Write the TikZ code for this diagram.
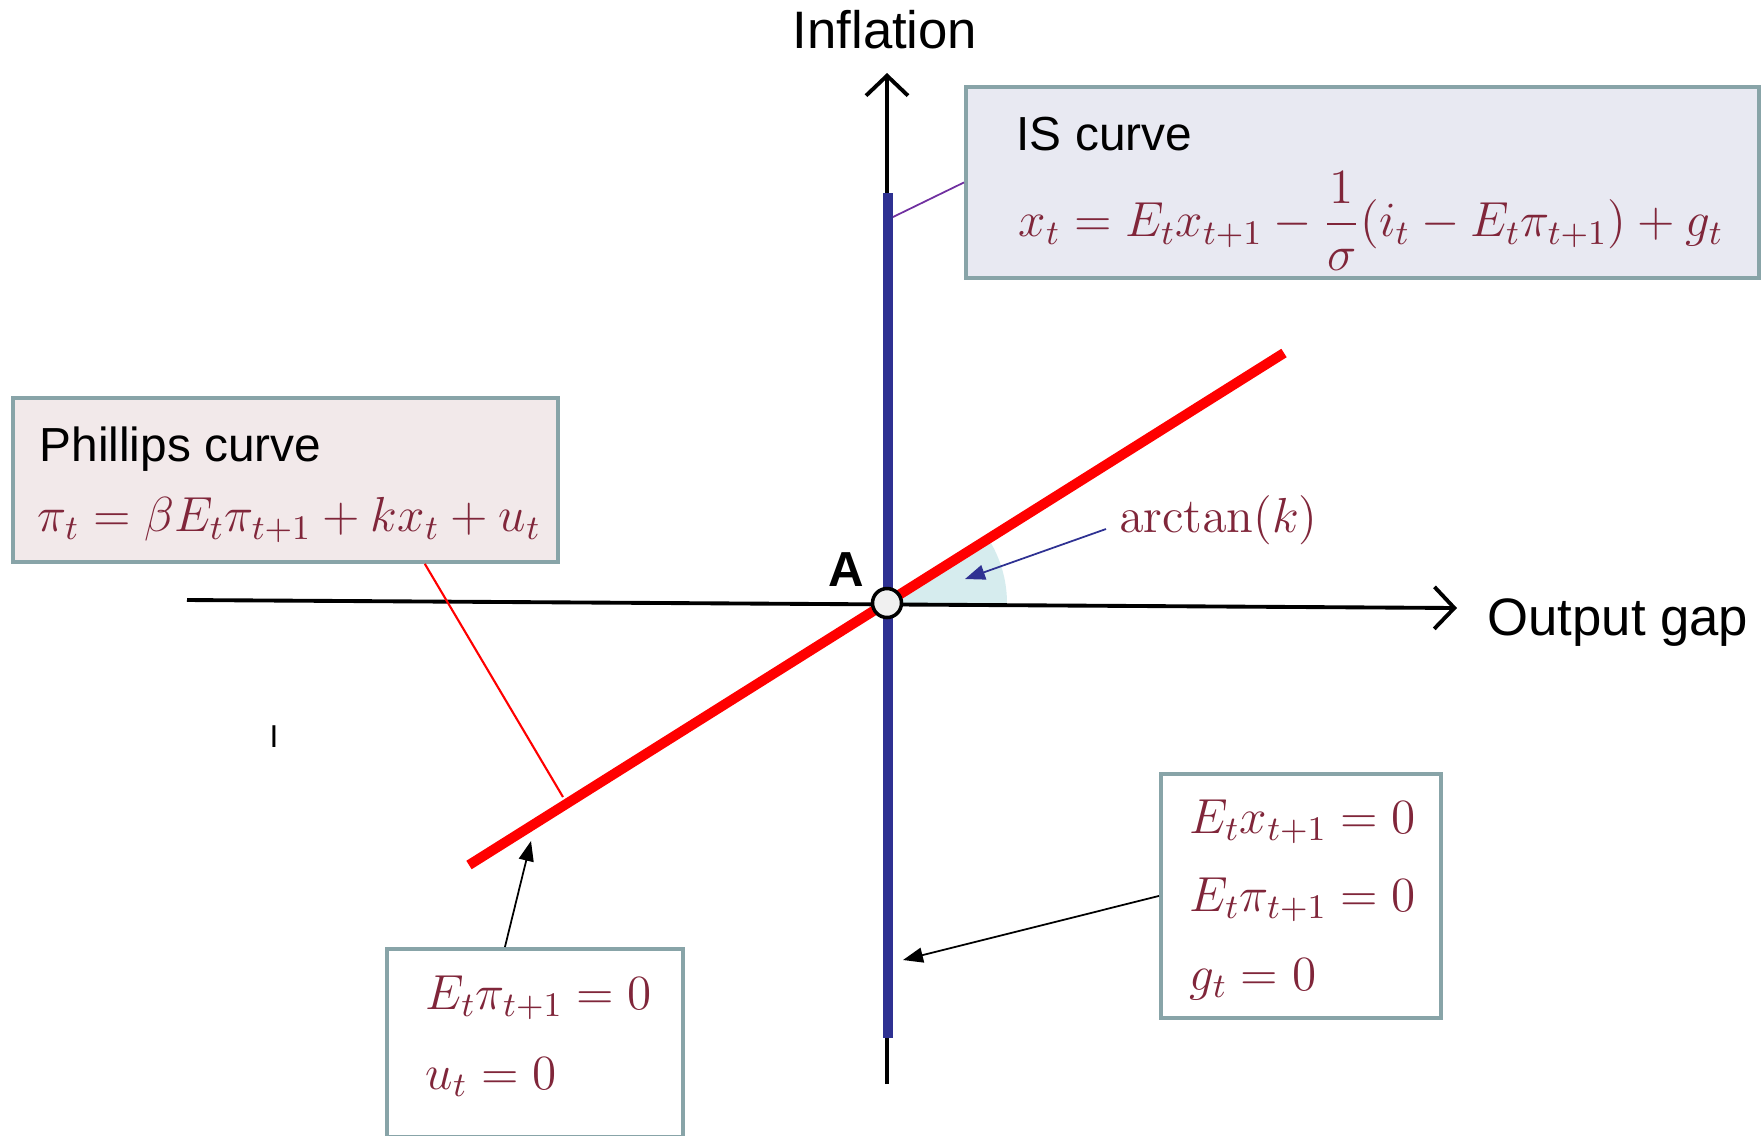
\RequirePackage{fix-cm}
\documentclass[tikz,border=0pt]{standalone}
\usepackage{amsmath}
\usepackage[no-math]{fontspec}
\setmainfont{Liberation Sans}
\usepackage{tikz}
\usetikzlibrary{arrows.meta,calc}

\definecolor{eqred}{RGB}{128,38,58}
\definecolor{isblue}{RGB}{46,49,146}
\definecolor{boxedge}{RGB}{136,164,168}
\definecolor{isfill}{RGB}{232,233,242}
\definecolor{pcfill}{RGB}{242,233,234}
\definecolor{wedgefill}{RGB}{214,236,238}
\definecolor{linkpurple}{RGB}{112,48,160}

\begin{document}
\begin{tikzpicture}[x=0.1mm,y=-0.1mm,
  axis/.style={black,line width=1.1pt,-{Straight Barb[length=2mm,width=4.2mm]}},
  isline/.style={isblue,line width=1mm},
  pcline/.style={red,line width=1mm},
  eqbox/.style={draw=boxedge,line width=1.1pt,rectangle,anchor=north west,inner sep=0pt},
  title/.style={anchor=west,inner sep=0pt,font=\fontsize{13.6}{16}\selectfont},
  eq/.style={anchor=west,inner sep=0pt,text=eqred,font=\fontsize{14}{16}\selectfont},
  pointer/.style={-{Triangle[length=2mm,width=1.5mm]},line width=0.5pt},
  every node/.style={font=\fontsize{15}{18}\selectfont}]
  \useasboundingbox (0,0) rectangle (1764,1135);

  % slope angle at A
  \fill[wedgefill] (887,603) -- +(12mm,0) arc[start angle=0,end angle=32.1,radius=12mm] -- cycle;

  \draw[axis] (187,600) -- (1457,608);
  \draw[axis] (887,1084) -- (887,73);

  \draw[isline] (888,193) -- (888,1038);
  \draw[pcline] (469,865) -- (1284,353);

  \node[circle,draw,fill=black!6,line width=1pt,minimum size=2.9mm,inner sep=0pt] (A) at (887,603) {};
  \node[font=\bfseries\fontsize{14}{16}\selectfont] (alabel) at (846,570) {A};

  \node (infl) at (885,30) {Inflation};
  \node[anchor=west] (gap) at (1475,623) {Output gap};
  \node[font=\fontsize{9}{10}\selectfont] (cursor) at (274,737) {I};

  % points where the connectors meet the lines
  \coordinate (isfoot) at (893,217);
  \coordinate (pcfoot) at (563,797);
  \coordinate (anglept) at (965,579);
  \coordinate (isarrow) at (903,960);
  \coordinate (pcarrow) at (531,841);

  \node[eq] (arctan) at (1119,520) {$\arctan(k)$};
  \draw[pointer,isblue] ($(arctan.west)+(-13,9)$) -- (anglept);

  % IS curve
  \node[eqbox,fill=isfill,minimum width=79.3mm,minimum height=19.1mm] (isbox) at (964,85) {};
  \node[title] (istitle) at (1016,134) {IS curve};
  \node[eq] (iseq) at (1018,221)
    {$\displaystyle x_t = E_t x_{t+1} - \frac{1}{\sigma}(i_t - E_t\pi_{t+1}) + g_t$};
  \draw[linkpurple,line width=0.5pt] (isbox.west) -- (isfoot);

  % Phillips curve
  \node[eqbox,fill=pcfill,minimum width=54.5mm,minimum height=16.4mm] (pcbox) at (11,396) {};
  \node[title] (pctitle) at (39,449) {Phillips curve};
  \node[eq] (pceq) at (37,520) {$\pi_t = \beta E_t\pi_{t+1} + k x_t + u_t$};
  \draw[red,line width=0.6pt] ($(pcbox.south west)!0.754!(pcbox.south east)$) -- (pcfoot);

  % conditions
  \node[eqbox,fill=white,minimum width=28mm,minimum height=24.4mm] (condbox) at (1159,772) {};
  \node[eq] (cond1) at (1189,822) {$E_t x_{t+1} = 0$};
  \node[eq] (cond2) at (1189,900) {$E_t\pi_{t+1} = 0$};
  \node[eq] (cond3) at (1189,979) {$g_t = 0$};
  \draw[pointer] (condbox.west) -- (isarrow);

  \node[eqbox,fill=white,minimum width=29.6mm,minimum height=18.8mm] (shockbox) at (385,947) {};
  \node[eq] (shock1) at (425,998) {$E_t\pi_{t+1} = 0$};
  \node[eq] (shock2) at (425,1077) {$u_t = 0$};
  \draw[pointer] ($(shockbox.north west)!0.4!(shockbox.north east)$) -- (pcarrow);
\end{tikzpicture}
\end{document}
